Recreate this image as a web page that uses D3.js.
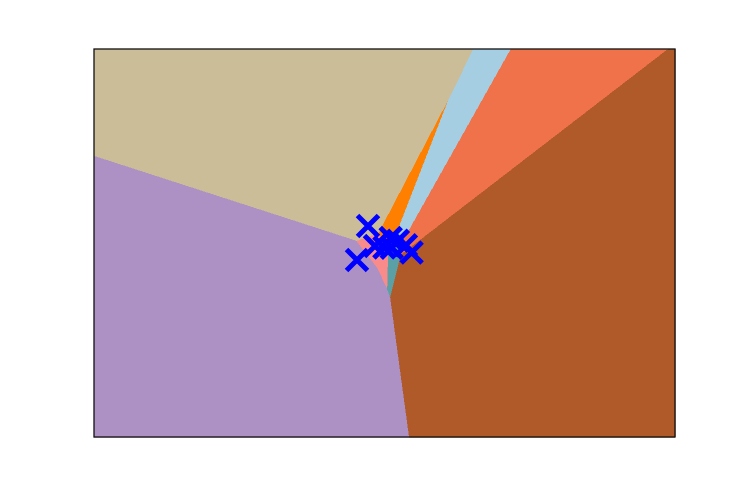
<!DOCTYPE html>
<html><head><meta charset="utf-8">
<script src="https://cdn.jsdelivr.net/npm/d3@7"></script>
<style>html,body{margin:0;padding:0;background:#fff;}</style>
</head><body><div id="chart"></div>
<script>
// k-means centroids (reduced 2-D data space) and the colour of each cluster's region
const clusterIds = [0, 1, 2, 3, 4, 5, 6, 7, 8];
const centroidX = [-2.6, -0.33, 0.39, 1.19, 1.76, -0.23, -0.96, -3.7, -1.9];
const centroidY = [1.1, -0.09, -0.37, -0.82, -1.56, -1.07, -1.05, -2.3, -0.9];
const xExtent = [-30, 28.1];
const yExtent = [-20, 18.8];
const palette = ["#cabd98", "#ff7f00", "#a6cee3", "#f0724a", "#b05929", "#5aa0a4", "#f98b8b", "#ae91c4", "#f98b8b"];

const W = 750, H = 500;
const m = {left: 94, top: 49, right: 75, bottom: 63};
const x0 = m.left, x1 = W - m.right, y0 = m.top, y1 = H - m.bottom;

const svg = d3.select("#chart").append("svg").attr("width", W).attr("height", H);
svg.append("rect").attr("width", W).attr("height", H).attr("fill", "#fff");

const x = d3.scaleLinear().domain(xExtent).range([x0, x1]);
const y = d3.scaleLinear().domain(yExtent).range([y1, y0]);

const centroids = clusterIds.map((id, i) => ({id, cx: centroidX[i], cy: centroidY[i]}));

const delaunay = d3.Delaunay.from(centroids, d => x(d.cx), d => y(d.cy));
const voronoi = delaunay.voronoi([x0, y0, x1, y1]);

svg.append("g").selectAll("path").data(centroids).join("path")
  .attr("d", (d, i) => voronoi.renderCell(i))
  .attr("fill", (d, i) => palette[i])
  .attr("stroke", (d, i) => palette[i])
  .attr("stroke-width", 0.5)
  .attr("shape-rendering", "crispEdges");

svg.append("g").selectAll("path").data(centroids).join("path")
  .attr("transform", d => `translate(${x(d.cx)},${y(d.cy)})`)
  .attr("d", "M-10.5,-10.5L10.5,10.5M-10.5,10.5L10.5,-10.5")
  .attr("fill", "none")
  .attr("stroke", "#0000ff")
  .attr("stroke-width", 5)
  .attr("stroke-linecap", "butt");

svg.append("rect")
  .attr("x", x0).attr("y", y0).attr("width", x1 - x0).attr("height", y1 - y0)
  .attr("fill", "none").attr("stroke", "#111").attr("stroke-width", 1.3);
</script>
</body></html>
